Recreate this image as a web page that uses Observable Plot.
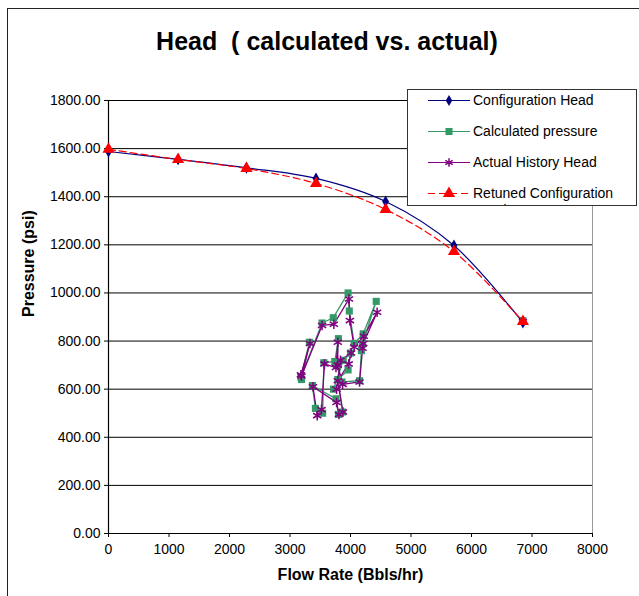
<!DOCTYPE html>
<html>
<head>
<meta charset="utf-8">
<script src="https://cdn.jsdelivr.net/npm/d3@7"></script>
<script src="https://cdn.jsdelivr.net/npm/@observablehq/plot@0.6"></script>
<style>
  html, body { margin: 0; padding: 0; background: #fff; }
  body { width: 639px; height: 596px; position: relative; overflow: hidden; font-family: "Liberation Sans", Arial, sans-serif; }
  #frame { position: absolute; left: 7px; top: 8px; width: 700px; height: 700px; border: 1.5px solid #222; box-sizing: border-box; pointer-events: none; }
  #chart { position: absolute; left: 0; top: 0; }
  #title { position: absolute; left: 0; top: 27px; width: 654px; text-align: center; font-weight: bold; font-size: 25px; color: #000; }
  #legend { position: absolute; left: 407px; top: 89px; width: 230px; height: 117px; background: #fff; border: 1px solid #333; box-sizing: border-box; overflow: hidden; }
  .item { position: absolute; left: 0; height: 20px; width: 260px; }
  .item svg { position: absolute; left: 20px; top: 0; }
  .item span { position: absolute; left: 65px; top: 1px; font-size: 14px; line-height: 17px; color: #000; white-space: nowrap; }
</style>
</head>
<body>
<div id="chart"></div>
<div id="frame"></div>
<div id="title">Head&nbsp; ( calculated vs. actual)</div>
<div id="legend"></div>
<script>
// ---- data ----
const flowConfig = [0, 1150, 2280, 3430, 4580, 5710, 6850];
const headConfig = [1588, 1555, 1520, 1476, 1380, 1197, 877];
const headRetuned = [1597, 1555, 1517, 1455, 1347, 1172, 881];

const flowCalc = [3190, 3320, 3180, 3530, 3715, 3960, 3980, 4060, 4210, 4425, 4200, 4180, 4150, 3860, 3770, 3800, 3740, 3560, 3540, 3420, 3370, 3760, 3800, 3870, 3790, 3960, 4000, 3880, 3720, null, 6850];
const presCalc = [640, 795, 650, 875, 897, 1000, 925, 790, 830, 965, 790, 760, 635, 630, 700, 810, 715, 710, 500, 520, 615, 560, 495, 505, 640, 680, 750, 720, 600, null, 885];

const flowActual = [3180, 3330, 3190, 3530, 3725, 3975, 3990, 4060, 4220, 4440, 4210, 4200, 4150, 3870, 3790, 3790, 3760, 3570, 3520, 3450, 3380, 3770, 3810, 3875, 3790, 3970, 4010, 3835, 3770, null, 6850];
const presActual = [660, 790, 655, 865, 870, 975, 885, 775, 820, 920, 790, 770, 630, 620, 700, 795, 690, 705, 515, 490, 610, 545, 495, 505, 635, 705, 750, 720, 600, null, 880];

const xTicks = [0, 1000, 2000, 3000, 4000, 5000, 6000, 7000, 8000];
const yTicks = [0, 200, 400, 600, 800, 1000, 1200, 1400, 1600, 1800];

const seriesNames = ["Configuration Head", "Calculated pressure", "Actual History Head", "Retuned Configuration Head"];

// ---- tables ----
const config = flowConfig.map((x, i) => ({x, y: headConfig[i]}));
const retuned = flowConfig.map((x, i) => ({x, y: headRetuned[i]}));
const calc = flowCalc.map((x, i) => ({x, y: presCalc[i]}));
const actual = flowActual.map((x, i) => ({x, y: presActual[i]}));
const defined = d => d.x != null && d.y != null;

const cBlue = "#000080", cGreen = "#339966", cPurple = "#800080", cRed = "#ff0000";

const plot = Plot.plot({
  width: 639,
  height: 596,
  marginLeft: 108,
  marginRight: 47,
  marginTop: 100,
  marginBottom: 63,
  style: { fontFamily: "'Liberation Sans', Arial, sans-serif", fontSize: "14px", background: "transparent", color: "#000" },
  x: { domain: [0, 8000], label: null },
  y: { domain: [0, 1800], label: null },
  marks: [
    Plot.gridY(yTicks, { stroke: "#000", strokeOpacity: 1, strokeWidth: 1 }),
    Plot.ruleX([8000], { stroke: "#999", strokeWidth: 1 }),
    Plot.ruleY([0], { stroke: "#000", strokeWidth: 1.2 }),
    Plot.ruleX([0], { stroke: "#000", strokeWidth: 1.2 }),
    Plot.axisX(xTicks, { tickSize: 4, tickPadding: 7, tickFormat: d => String(d), fontSize: 14, label: null }),
    Plot.axisY(yTicks, { tickSize: 4, tickPadding: 4, tickFormat: d => d.toFixed(2), fontSize: 14, label: null }),
    Plot.text(["Flow Rate (Bbls/hr)"], { frameAnchor: "bottom", dy: 46, fontWeight: "bold", fontSize: 16, text: d => d }),
    Plot.text(["Pressure (psi)"], { frameAnchor: "left", dx: -80, rotate: -90, fontWeight: "bold", fontSize: 16, text: d => d }),
    // cluster series
    Plot.line(calc.filter(defined).slice(0, -1), { x: "x", y: "y", stroke: cGreen, strokeWidth: 1.3 }),
    Plot.line(actual.filter(defined).slice(0, -1), { x: "x", y: "y", stroke: cPurple, strokeWidth: 1.3 }),
    Plot.dot(calc.filter(defined), { x: "x", y: "y", symbol: "square", fill: cGreen, r: 4 }),
    Plot.dot(actual.filter(defined), { x: "x", y: "y", symbol: "asterisk", stroke: cPurple, strokeWidth: 1.5, r: 4.5 }),
    // curves
    Plot.line(config, { x: "x", y: "y", stroke: cBlue, strokeWidth: 1.2, curve: "catmull-rom" }),
    Plot.line(retuned, { x: "x", y: "y", stroke: cRed, strokeWidth: 1.2, strokeDasharray: "7,4", curve: "catmull-rom" }),
    Plot.dot(config, { x: "x", y: "y", symbol: "diamond", fill: cBlue, r: 3.6 }),
    Plot.dot(retuned, { x: "x", y: "y", symbol: "triangle", fill: cRed, r: 4.5 })
  ]
});
document.getElementById("chart").appendChild(plot);

// ---- legend ----
const legend = document.getElementById("legend");
const swatches = [
  { stroke: cBlue, dash: null, sym: "diamond" },
  { stroke: cGreen, dash: null, sym: "square" },
  { stroke: cPurple, dash: null, sym: "asterisk" },
  { stroke: cRed, dash: "7,4", sym: "triangle" }
];
const symbolMap = { diamond: d3.symbolDiamond, square: d3.symbolSquare, asterisk: d3.symbolAsterisk, triangle: d3.symbolTriangle };
seriesNames.forEach((name, i) => {
  const s = swatches[i];
  const item = document.createElement("div");
  item.className = "item";
  item.style.top = (i * 31 + 1) + "px";
  const svg = d3.create("svg").attr("width", 44).attr("height", 20);
  svg.append("line").attr("x1", 0).attr("x2", 42).attr("y1", 9.5).attr("y2", 9.5)
    .attr("stroke", s.stroke).attr("stroke-width", 1.2).attr("stroke-dasharray", s.dash);
  const isStroke = s.sym === "asterisk";
  svg.append("path").attr("transform", "translate(21,9.5)")
    .attr("d", d3.symbol(symbolMap[s.sym], s.sym === "diamond" ? 36 : (s.sym === "triangle" ? 64 : 50))())
    .attr("fill", isStroke ? "none" : s.stroke)
    .attr("stroke", isStroke ? s.stroke : "none").attr("stroke-width", 1.5);
  item.appendChild(svg.node());
  const span = document.createElement("span");
  span.textContent = name;
  if (i === 3) { span.style.whiteSpace = "normal"; span.style.width = "160px"; }
  item.appendChild(span);
  legend.appendChild(item);
});
</script>
</body>
</html>
